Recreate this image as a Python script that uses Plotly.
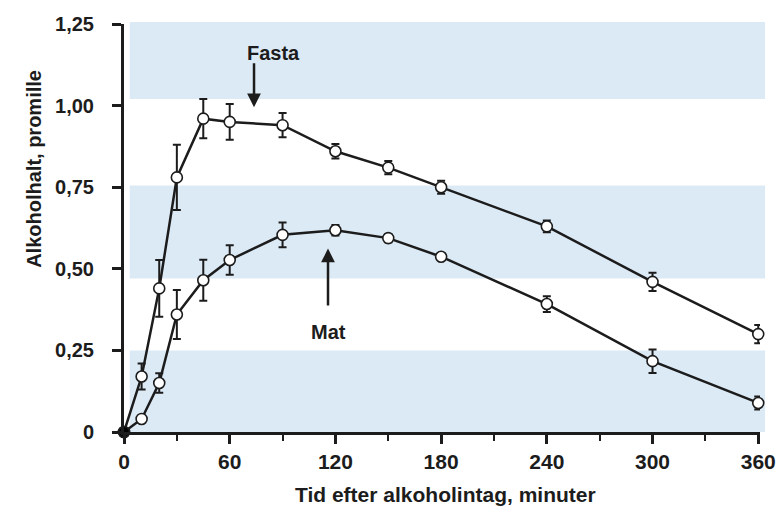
import plotly.graph_objects as go

# ---- data ----
time_min = [0, 10, 20, 30, 45, 60, 90, 120, 150, 180, 240, 300, 360]
fasta = [0, 0.17, 0.44, 0.78, 0.96, 0.95, 0.94, 0.86, 0.81, 0.75, 0.63, 0.46, 0.30]
fasta_err = [0, 0.04, 0.087, 0.10, 0.06, 0.055, 0.037, 0.022, 0.02, 0.02, 0.018, 0.028, 0.028]
mat = [0, 0.04, 0.15, 0.36, 0.465, 0.527, 0.604, 0.618, 0.594, 0.537, 0.392, 0.217, 0.089]
mat_err = [0, 0.008, 0.03, 0.075, 0.063, 0.045, 0.038, 0.016, 0.013, 0.01, 0.024, 0.036, 0.02]

y_ticks = [0, 0.25, 0.5, 0.75, 1.0, 1.25]
y_ticktext = ["0", "0,25", "0,50", "0,75", "1,00", "1,25"]
x_ticks = [0, 60, 120, 180, 240, 300, 360]
x_ticktext = ["0", "60", "120", "180", "240", "300", "360"]

band_ranges = [(0.0, 0.25), (0.47, 0.755), (1.02, 1.256)]

INK = "#1c1c1c"
FONT = "Liberation Sans, Arial, sans-serif"
Y_MAX = 1.25

fig = go.Figure()

marker_fill = ["black" if i == 0 else "white" for i in range(len(time_min))]

for vals, errs, name in [(fasta, fasta_err, "Fasta"), (mat, mat_err, "Mat")]:
    fig.add_trace(go.Scatter(
        x=time_min, y=vals, name=name, mode="lines+markers",
        line=dict(color=INK, width=2.5),
        marker=dict(symbol="circle", size=11, color=marker_fill,
                    line=dict(color=INK, width=1.6)),
        error_y=dict(type="data", array=errs, visible=True,
                     color=INK, thickness=2, width=4),
        cliponaxis=False, showlegend=False,
    ))

shapes = []
for lo, hi in band_ranges:
    shapes.append(dict(type="rect", xref="paper", yref="paper",
                       x0=0.009, x1=1.008, y0=lo / Y_MAX, y1=hi / Y_MAX,
                       fillcolor="#dceaf6", line=dict(width=0), layer="below"))

annotations = [
    # Fasta label + arrow
    dict(x=84.6, y=1.161, xref="x", yref="y", text="Fasta", showarrow=False,
         font=dict(family=FONT, size=20, color=INK, weight="bold")),
    dict(x=73.8, y=0.995, xref="x", yref="y", ax=73.8, ay=1.134,
         axref="x", ayref="y", text="", showarrow=True, arrowhead=2,
         arrowsize=1.1, arrowwidth=2.5, arrowcolor=INK),
    # Mat label + arrow
    dict(x=115.8, y=0.306, xref="x", yref="y", text="Mat", showarrow=False,
         font=dict(family=FONT, size=20, color=INK, weight="bold")),
    dict(x=115.8, y=0.562, xref="x", yref="y", ax=115.8, ay=0.383,
         axref="x", ayref="y", text="", showarrow=True, arrowhead=2,
         arrowsize=1.1, arrowwidth=2.5, arrowcolor=INK),
    # axis titles
    dict(x=-0.1415, y=0.645, xref="paper", yref="paper", textangle=-90,
         text="Alkoholhalt, promille", showarrow=False,
         xanchor="center", yanchor="middle",
         font=dict(family=FONT, size=20, color=INK, weight="bold")),
    dict(x=0.505, y=-0.154, xref="paper", yref="paper",
         text="Tid efter alkoholintag, minuter", showarrow=False,
         xanchor="center", yanchor="middle",
         font=dict(family=FONT, size=21, color=INK, weight="bold")),
]

fig.update_layout(
    width=779, height=506,
    margin=dict(l=124, r=19, t=24, b=74, autoexpand=False),
    paper_bgcolor="white", plot_bgcolor="rgba(0,0,0,0)",
    shapes=shapes, annotations=annotations,
    font=dict(family=FONT, color=INK),
)

fig.update_xaxes(
    range=[0, 361], showgrid=False, zeroline=False, automargin=False,
    showline=True, linecolor=INK, linewidth=3,
    tickmode="array", tickvals=x_ticks, ticktext=x_ticktext,
    ticks="outside", ticklen=9, tickwidth=3, tickcolor=INK,
    tickfont=dict(family=FONT, size=21, color=INK, weight="bold"),
    ticklabelstandoff=0,
    minor=dict(tickmode="linear", tick0=30, dtick=60, ticks="outside",
               ticklen=6, tickwidth=2, tickcolor=INK, showgrid=False),
)
fig.update_yaxes(
    range=[0, Y_MAX], showgrid=False, zeroline=False, automargin=False,
    showline=True, linecolor=INK, linewidth=3,
    tickmode="array", tickvals=y_ticks, ticktext=y_ticktext,
    ticks="outside", ticklen=9, tickwidth=3, tickcolor=INK,
    tickfont=dict(family=FONT, size=20, color=INK, weight="bold"),
    ticklabelstandoff=14,
)

fig.write_html("out.html")
